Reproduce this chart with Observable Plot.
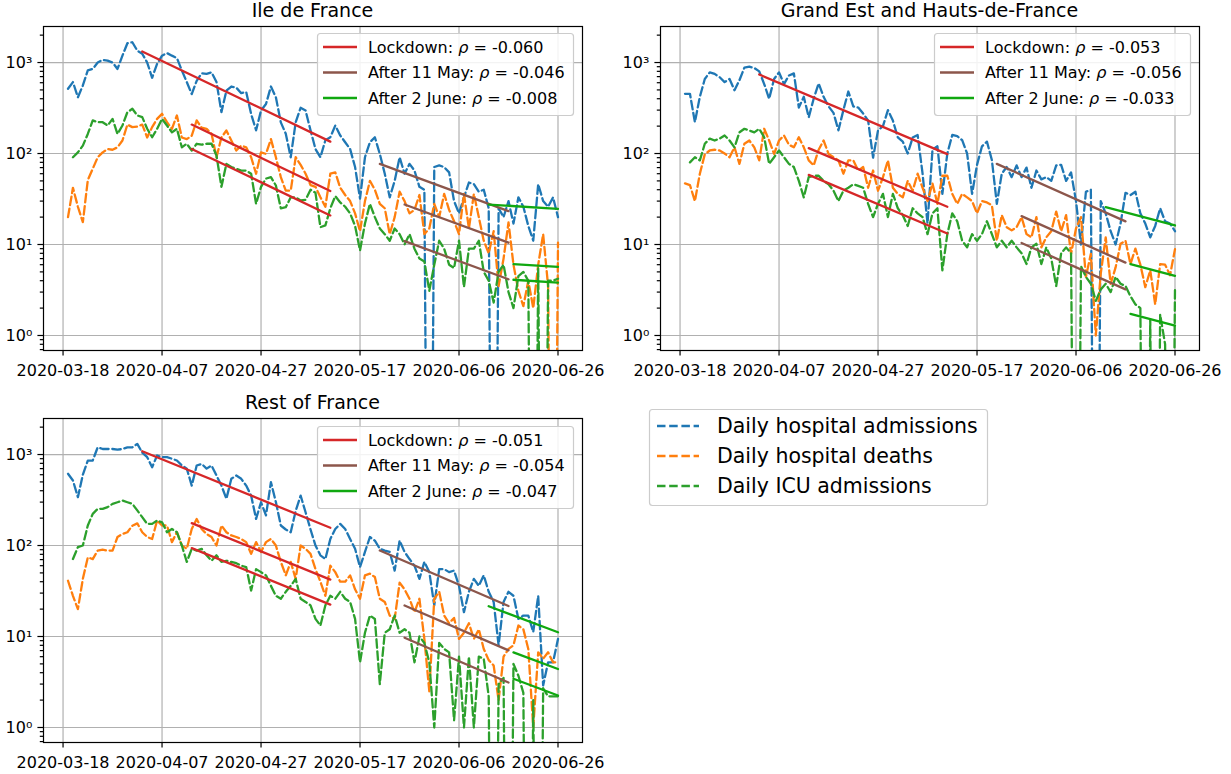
<!DOCTYPE html>
<html>
<head>
<meta charset="utf-8">
<script src="https://cdn.jsdelivr.net/npm/d3@7"></script>
<script src="https://cdn.jsdelivr.net/npm/@observablehq/plot@0.6"></script>
<style>
  html, body { margin: 0; padding: 0; background: #fff; }
  #fig { position: relative; width: 1231px; height: 774px; font-family: "DejaVu Sans", sans-serif; }
  .panel { position: absolute; }
</style>
</head>
<body>
<div id="fig"></div>
<script>
// ---------------- data ----------------
const startDate = "2020-03-19";            // day index 0
const xTickLabels = ["2020-03-18", "2020-04-07", "2020-04-27", "2020-05-17", "2020-06-06", "2020-06-26"];
const yTickValues = [1, 10, 100, 1000];
const yTickLabels = ["10\u2070", "10\u00b9", "10\u00b2", "10\u00b3"];
const yMinorTicks = [0.7, 0.8, 0.9, 2, 3, 4, 5, 6, 7, 8, 9, 20, 30, 40, 50, 60, 70, 80, 90,
                     200, 300, 400, 500, 600, 700, 800, 900, 2000];
const panelTitles = ["Ile de France", "Grand Est and Hauts-de-France", "Rest of France"];
const seriesNames = ["Daily hospital admissions", "Daily hospital deaths", "Daily ICU admissions"];
const periodNames = ["Lockdown", "After 11 May", "After 2 June"];

// Ile de France
const idfAdmissions = [515, 610, 415, 560, 820, 850, 1000, 1070, 1050, 1000,
  850, 1190, 1630, 1670, 1350, 1250, 1000, 680, 965, 1190,
  1270, 1190, 1120, 820, 610, 450, 630, 760, 750, 780,
  610, 285, 490, 545, 530, 460, 475, 272, 180, 297,
  350, 545, 415, 220, 165, 91, 220, 318, 297, 180,
  112, 91, 140, 151, 203, 158, 133, 112, 71, 32,
  91, 133, 151, 99, 60, 33, 50, 91, 60, 77,
  65, 43, 40, 0, 71, 74, 71, 62, 30, 22,
  33, 48, 46, 38, 40, 25, 0, 25, 20, 30,
  17, 33, 26, 16, 11, 46, 30, 26, 33, 20];
const idfDeaths = [20, 42, 26, 17.6, 51, 68, 91, 103, 112, 110,
  117, 139, 208, 195, 198, 208, 150, 195, 240, 273,
  221, 187, 262, 150, 144, 157, 231, 192, 187, 165,
  91, 150, 179, 139, 108, 122, 117, 91, 60, 103,
  99, 144, 91, 55, 39, 39, 91, 75, 60, 45,
  43, 33, 26, 60, 62, 42, 35, 30, 22, 14,
  30, 50, 40, 28, 25, 13, 20, 38, 30, 22,
  24, 35, 13, 15, 28, 20, 36, 24, 18, 13,
  36, 15, 36, 20, 11, 8, 14, 3.5, 7, 17.5,
  6, 3.1, 2.1, 4, 2, 6, 13, 3.5, 0, 10.5];
const idfICU = [null, 91, 103, 122, 164, 231, 221, 221, 203, 240,
  164, 203, 285, 310, 262, 251, 187, 151, 187, 240,
  203, 171, 187, 117, 128, 108, 128, 125, 128, 128,
  95, 43, 77, 71, 68, 65, 65, 60, 28, 43,
  53, 55, 44.5, 25, 25.7, 33, 33, 30.5, 31, 40,
  37, 15.5, 16.2, 25, 34, 29, 26, 22, 16, 8.6,
  17, 28, 20, 15, 13, 11, 15, 13, 10, 13,
  9, 7, 6.5, 3.1, 6, 11, 9, 6, 5.5, 11,
  3.4, 9, 9, 11, 5, 4, 2.3, 5, 6, 3,
  2, 4.5, 5, 4, 0, 5.5, 0, 4, 4, 4.2];
const idfRho = [-0.060, -0.046, -0.008];
const idfFitStart = [[1320, 208, 112], [77, 27.5, 10.9], [27.5, 6.1, 4.1]];

// Grand Est and Hauts-de-France
const geAdmissions = [453, 453, 221, 420, 660, 780, 750, 690, 610, 660,
  495, 640, 880, 900, 870, 800, 580, 400, 660, 780,
  580, 720, 760, 320, 420, 250, 400, 590, 420, 330,
  280, 180, 300, 480, 330, 320, 275, 230, 90, 180,
  200, 300, 230, 150, 135, 100, 150, 160, 60, 17,
  110, 120, 36, 100, 160, 155, 140, 100, 36, 75,
  120, 135, 85, 28, 60, 71, 55, 74, 55, 70,
  42, 65, 52, 55, 50, 74, 75, 50, 62, 30,
  10, 38, 40, 0, 30, 22, 14, 10, 17, 37,
  35, 38, 22, 17, 12, 16, 25, 18, 17, 14];
const geDeaths = [47, 45, 30, 60, 98, 108, 110, 108, 100, 91,
  117, 77, 128, 139, 117, 84, 187, 139, 99, 139,
  158, 125, 117, 151, 117, 84, 74, 110, 139, 99,
  91, 84, 60, 84, 84, 65, 71, 42, 65, 39,
  55, 84, 42, 36, 33, 50, 39, 60, 42, 30,
  47, 28, 57, 57, 36, 28, 36, 33, 30, 22,
  30, 29, 27, 11, 21, 15.5, 14.3, 15.5, 20, 13,
  12, 20, 9.3, 12, 14, 23, 14, 21, 7.9, 15,
  20, 4.4, 7.9, 1, 4.8, 12, 3.7, 5.6, 10.2, 11,
  6.1, 9, 6, 3.4, 5.2, 2.2, 6.1, 6, 4.6, 8.9];
const geICU = [null, 80, 91, 84, 128, 146, 139, 146, 158, 139,
  117, 171, 187, 179, 171, 187, 151, 77, 91, 108,
  91, 77, 71, 50, 33, 55, 57, 57, 50, 46,
  39, 30, 39, 42, 46, 44, 42, 28, 20, 28,
  36, 20, 36, 25, 21, 16, 25, 22, 20, 13,
  22, 25, 5.2, 13, 22, 18, 11, 9.3, 13, 11,
  13, 18, 13, 9.3, 11, 9.3, 11, 9.3, 8, 6.1,
  9.3, 10.2, 6.1, 9.3, 7, 3.5, 8, 9.3, 8, 0,
  5.8, 4.4, 3.7, 2.4, 3.2, 3.7, 3, 4.4, 3.7, 3.5,
  2.7, 2.2, 2, 0, 1.5, 0, 1.7, 0.8, 0, 3.4];
const geRho = [-0.053, -0.056, -0.033];
const geFitStart = [[738, 114.6, 58.3], [77, 20.5, 10.4], [25.7, 6.1, 1.73]];

// Rest of France
const rofAdmissions = [614, 518, 340, 600, 859, 860, 1200, 1150, 1150, 1150,
  1130, 1150, 1200, 1200, 1310, 1050, 935, 726, 975, 935,
  935, 900, 860, 760, 700, 456, 757, 789, 700, 757,
  588, 456, 326, 541, 588, 541, 456, 354, 196, 299,
  214, 497, 300, 166, 150, 140, 240, 354, 232, 150,
  100, 78, 71, 118, 152, 173, 152, 118, 92, 58,
  85, 124, 113, 92, 88, 85, 53, 113, 85, 71,
  60, 43, 66, 51, 22, 55, 55, 51, 53, 36,
  18.5, 31, 43, 36, 47, 31, 24, 8, 24, 31,
  28, 15.6, 17, 17, 11.2, 28, 2.9, 5.2, 5.2, 9.4];
const rofDeaths = [41, 28, 20, 43, 74, 71, 88, 90, 88, 88,
  124, 134, 140, 165, 175, 140, 124, 118, 188, 166,
  166, 109, 140, 100, 92, 152, 196, 152, 134, 124,
  100, 166, 140, 129, 124, 118, 109, 81, 109, 85,
  109, 118, 100, 66, 47, 66, 43, 100, 92, 81,
  55, 40, 28, 60, 51, 40, 40, 47, 33, 26,
  47, 49, 45, 26, 24, 17, 15.6, 39, 33, 26,
  18.5, 26, 9.4, 2.5, 26, 31, 17, 14, 16, 9.4,
  11, 14, 9.4, 12, 7.3, 5.5, 4.8, 2, 6, 7.3,
  8, 13.2, 12, 7.3, 1.0, 6.7, 5.7, 6.7, 5.2, 5.2];
const rofICU = [null, 71, 96, 100, 166, 223, 253, 253, 264, 287,
  299, 312, 299, 287, 243, 205, 173, 173, 188, 180,
  140, 152, 140, 100, 66, 92, 88, 92, 78, 68,
  78, 66, 68, 66, 64, 60, 58, 32, 55, 51,
  47, 36, 28, 26, 31, 36, 43, 26, 24, 22,
  15.6, 13.2, 22, 28, 26, 31, 26, 24, 15.6, 5.2,
  11, 17, 15.6, 3, 11, 12, 17, 11, 12, 11,
  5.2, 10, 8.5, 5.2, 1, 8.5, 7.3, 6.7, 1.2, 6,
  1, 6, 1, 6, 5.7, 2.2, 0, 3, 3.5, 0,
  5, 3.7, 2.4, 0, 2, 0, 2.7, 2.2, 2.2, 2.2];
const rofRho = [-0.051, -0.054, -0.047];
const rofFitStart = [[1088, 176, 93.5], [88, 21.9, 9.7], [21.5, 6.7, 3.43]];

// fit windows (day index): start per period per series, end per period
const fitStartDay = [[15, 25, 25], [63, 68, 68], [85, 90, 90]];
const fitEndDay = [53, 89, 99];

// ---------------- styling ----------------
const seriesColors = ["#1f77b4", "#ff7f0e", "#2ca02c"];
const fitColors = ["#d62728", "#8c564b", "#10a810"];
const FONT = "DejaVu Sans";

const DAY = 86400000;
const t0 = d3.utcParse("%Y-%m-%d")(startDate).getTime();
const dayToDate = d => new Date(t0 + d * DAY);
const xTicks = xTickLabels.map(d3.utcParse("%Y-%m-%d"));
const xDomain = [dayToDate(-4.95), dayToDate(99 + 4.95)];
const yDomain = [Math.pow(10, -0.165), Math.pow(10, 3.396)];

const panels = [
  {title: panelTitles[0], series: [idfAdmissions, idfDeaths, idfICU], rho: idfRho, fitStart: idfFitStart, left: 0, top: 0},
  {title: panelTitles[1], series: [geAdmissions, geDeaths, geICU], rho: geRho, fitStart: geFitStart, left: 617, top: 0},
  {title: panelTitles[2], series: [rofAdmissions, rofDeaths, rofICU], rho: rofRho, fitStart: rofFitStart, left: 0, top: 392}
];

const W = 600, H = 380, M = {top: 26, right: 18, bottom: 30, left: 43};
const fig = document.getElementById("fig");

function makePanel(p) {
  const rows = [];
  p.series.forEach((vals, s) => vals.forEach((v, i) => {
    if (v == null) return;
    rows.push({s, date: dayToDate(i), value: v > 0 ? v : 1e-6});
  }));
  const fits = [];
  periodNames.forEach((_, k) => [0, 1, 2].forEach(s => {
    const d0 = fitStartDay[k][s], d1 = fitEndDay[k], v0 = p.fitStart[k][s];
    const v1 = v0 * Math.exp(p.rho[k] * (d1 - d0));
    fits.push({k, s, date: dayToDate(d0), value: v0});
    fits.push({k, s, date: dayToDate(d1), value: v1});
  }));
  const grid = {stroke: "#b0b0b0", strokeOpacity: 1, strokeWidth: 1.2};
  const chart = Plot.plot({
    width: W, height: H,
    marginTop: M.top, marginRight: M.right, marginBottom: M.bottom, marginLeft: M.left,
    style: {fontFamily: FONT, fontSize: "16px", color: "black", background: "transparent", overflow: "visible"},
    x: {type: "utc", domain: xDomain, label: null},
    y: {type: "log", domain: yDomain, label: null},
    marks: [
      Plot.gridX({ticks: xTicks, ...grid}),
      Plot.gridY({ticks: yTickValues, ...grid}),
      ...[0, 1, 2].map(s => Plot.line(rows.filter(r => r.s === s), {
        x: "date", y: "value", stroke: seriesColors[s], strokeWidth: 2.3,
        strokeDasharray: "8.5,3.7", clip: true, curve: "linear"
      })),
      ...[0, 1, 2].map(k => Plot.line(fits.filter(f => f.k === k), {
        x: "date", y: "value", z: "s", stroke: fitColors[k], strokeWidth: 2.3, clip: true
      })),
      Plot.axisY({ticks: yMinorTicks, tickSize: 3.2, tickFormat: () => "", strokeWidth: 1.2, label: null}),
      Plot.axisY({ticks: yTickValues, tickSize: 5.6, tickPadding: 5.6, strokeWidth: 1.2, label: null,
        tickFormat: d => yTickLabels[yTickValues.indexOf(d)]}),
      Plot.axisX({ticks: xTicks, tickSize: 5.6, tickPadding: 8.2, strokeWidth: 1.2, label: null,
        tickFormat: d3.utcFormat("%Y-%m-%d")}),
      Plot.frame({stroke: "black", strokeWidth: 1.2})
    ]
  });
  const holder = document.createElement("div");
  holder.className = "panel";
  holder.style.left = p.left + "px";
  holder.style.top = p.top + "px";
  holder.appendChild(chart);
  fig.appendChild(holder);
}
panels.forEach(makePanel);

// ---------------- overlay: titles and legends ----------------
const ov = d3.select(fig).append("svg")
  .attr("width", 1231).attr("height", 774)
  .style("position", "absolute").style("left", "0px").style("top", "0px")
  .style("pointer-events", "none")
  .attr("font-family", FONT);

panels.forEach(p => {
  const cx = p.left + M.left + (W - M.left - M.right) / 2;
  ov.append("text").attr("x", cx).attr("y", p.top + 17)
    .attr("text-anchor", "middle").attr("font-size", 19).attr("fill", "black")
    .text(p.title);
});

function legendBox(x, y, w, h) {
  ov.append("rect").attr("x", x + 0.5).attr("y", y + 0.5).attr("width", w).attr("height", h)
    .attr("rx", 3).attr("ry", 3)
    .attr("fill", "white").attr("fill-opacity", 0.85)
    .attr("stroke", "#cccccc").attr("stroke-width", 1.2);
}

// per-panel fit legends
panels.forEach(p => {
  const bx = p.left + 317, by = p.top + 33 + (p.top > 0 ? 0 : 0);
  const byy = p.top === 0 ? 33 : p.top + 34;
  legendBox(bx, byy, 256, 82);
  const rowY = [14, 39.5, 65];
  periodNames.forEach((name, k) => {
    const cy = byy + rowY[k];
    ov.append("line").attr("x1", bx + 6).attr("x2", bx + 40).attr("y1", cy).attr("y2", cy)
      .attr("stroke", fitColors[k]).attr("stroke-width", 2.3);
    const t = ov.append("text").attr("x", bx + 51).attr("y", cy + 5.8)
      .attr("font-size", 16).attr("fill", "black").style("white-space", "pre");
    t.append("tspan").text(name + ": ");
    t.append("tspan").attr("font-style", "italic").text("\u03c1");
    t.append("tspan").text(" = " + p.rho[k].toFixed(3));
  });
});

// shared series legend
{
  const bx = 649, by = 409;
  legendBox(bx, by, 338, 96);
  const rowY = [17, 47, 77];
  seriesNames.forEach((name, s) => {
    const cy = by + rowY[s];
    ov.append("line").attr("x1", bx + 8).attr("x2", bx + 50).attr("y1", cy).attr("y2", cy)
      .attr("stroke", seriesColors[s]).attr("stroke-width", 2.3).attr("stroke-dasharray", "8.5,3.7");
    ov.append("text").attr("x", bx + 68).attr("y", cy + 7.4)
      .attr("font-size", 20.5).attr("fill", "black").text(name);
  });
}
</script>
</body>
</html>
